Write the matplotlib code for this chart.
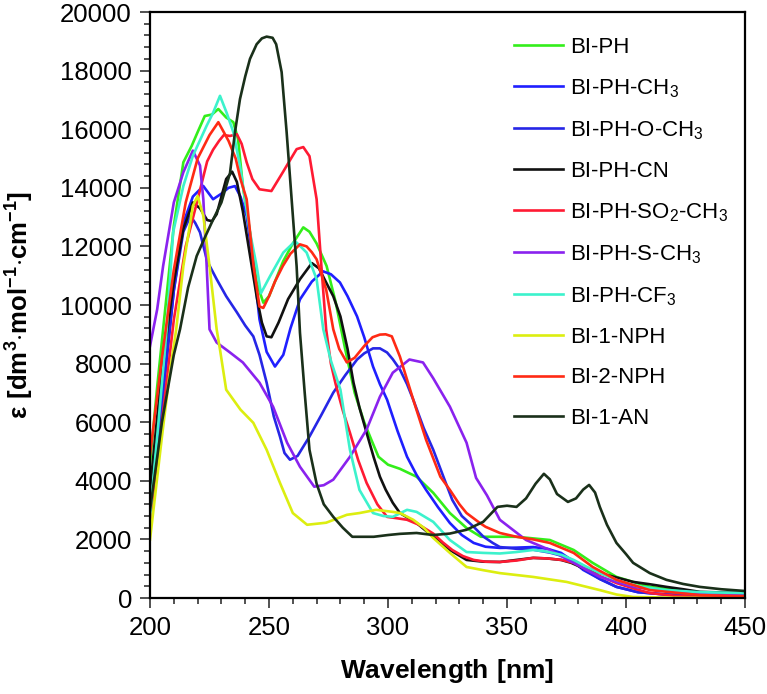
import matplotlib
matplotlib.use("Agg")
import matplotlib.pyplot as plt
from matplotlib.ticker import MultipleLocator

plt.rcParams['font.family'] = ['Liberation Sans', 'DejaVu Sans']
plt.rcParams['mathtext.fontset'] = 'custom'
plt.rcParams['mathtext.rm'] = 'Liberation Sans'
plt.rcParams['mathtext.bf'] = 'Liberation Sans:bold'

# --- data (wavelength nm, epsilon) ---
ph_wl = [200, 203, 205.5, 210, 214, 217.5, 220, 223, 226, 228.7, 232, 235, 237, 239, 242,
         244.8, 247.6, 250, 253, 256, 260, 264.4, 267, 270, 274.2, 278, 282, 286, 290, 293,
         296, 300, 305, 312, 319, 326, 333, 339, 347, 354, 368, 378, 386, 396, 410, 431, 450]
ph_eps = [4600, 7200, 9170, 12700, 14870, 15430, 15900, 16450, 16500, 16690, 16400, 16240,
          15660, 14060, 12480, 10770, 10080, 10300, 10900, 11500, 12100, 12650, 12500, 12100,
          11330, 10100, 8500, 7000, 6000, 5400, 4820, 4550, 4410, 4140, 3590, 2900, 2390,
          2090, 2090, 2090, 1980, 1640, 1200, 720, 380, 170, 100]

ch3_wl = [200, 205, 210, 214, 218, 222.4, 226.5, 230, 233, 235.7, 238, 240.6, 243.5, 246,
          249, 252.5, 256, 259, 263, 268, 272.7, 276, 279.8, 283, 287, 290, 293.7, 296.6,
          299.6, 304, 308, 312, 316, 321, 326, 331, 336, 341, 347, 354, 361, 367, 372.7,
          377, 382, 389, 396, 405, 417, 431, 450]
ch3_eps = [2500, 6500, 10500, 12800, 13700, 14060, 13610, 13800, 14000, 14060, 13700, 13040,
           11330, 9510, 8400, 7900, 8300, 9200, 10190, 10800, 11150, 11050, 10770, 10300,
           9610, 8900, 7900, 7300, 6770, 5700, 4820, 4200, 3690, 3100, 2560, 2150, 1880,
           1750, 1710, 1720, 1740, 1680, 1540, 1300, 960, 650, 380, 200, 120, 80, 60]

och3_wl = [200, 205, 210, 214, 217, 219, 221, 224, 228, 232, 236.5, 240, 243.4, 246, 249,
           252, 254.6, 256.5, 258.8, 262, 267, 272, 277, 282, 287, 290, 293.7, 296.6, 299.6,
           302, 305, 308, 310.6, 315, 319, 323, 327, 331, 336, 340, 344, 347, 354, 361, 368,
           375, 382, 389, 396, 405, 417, 431, 450]
och3_eps = [2400, 6800, 10500, 12500, 13040, 12800, 12480, 11500, 10880, 10300, 9750, 9300,
            8930, 8300, 7350, 6200, 5510, 4950, 4720, 4850, 5510, 6250, 7010, 7600, 8140,
            8350, 8520, 8520, 8380, 8150, 7800, 7300, 6770, 5800, 5060, 4200, 3350, 2800,
            2430, 2100, 1880, 1740, 1680, 1650, 1550, 1400, 1000, 650, 380, 200, 120, 80, 60]

cn_wl = [200, 205, 210, 214, 218, 221, 224, 226, 228, 230, 232, 234.5, 236.5, 239, 242, 245,
         247, 249, 251, 254, 258, 263, 268, 271, 274, 277, 280, 283, 285.5, 288, 291, 294,
         296.6, 299, 302, 305, 312, 319, 326, 333, 340, 347, 354, 361, 367, 372.7, 377, 382,
         389, 396, 403, 410, 417, 424, 431, 440, 450]
cn_eps = [3700, 7800, 10800, 12600, 13500, 13300, 12900, 12860, 13100, 13700, 14300, 14550,
          14200, 13200, 11700, 10200, 9400, 8930, 8900, 9400, 10200, 10880, 11430, 11250,
          10770, 10300, 9610, 8500, 7350, 6500, 5640, 4800, 4140, 3700, 3250, 2900, 2560,
          2090, 1640, 1300, 1240, 1230, 1300, 1370, 1350, 1300, 1200, 1020, 850, 700, 550,
          470, 380, 300, 210, 190, 170]

so2_wl = [200, 205, 210, 215, 220, 224, 226.5, 229, 231, 233.6, 236.5, 238.5, 240.6, 243,
          246, 251, 255.8, 258.5, 261.6, 264.4, 267, 270, 272, 274, 276, 278, 281, 284,
          287.5, 291, 295.5, 299.6, 304, 308, 313, 319, 323, 327, 331.5, 336, 341, 347, 354,
          361, 367, 373, 378, 383.6, 389, 396, 403, 410, 420, 431, 450]
so2_eps = [2300, 6000, 9500, 12000, 13600, 14900, 15300, 15600, 15800, 15770, 15830, 15500,
           14870, 14300, 13950, 13890, 14530, 14900, 15320, 15390, 15080, 13610, 11330, 9170,
           8000, 7300, 6400, 5640, 4700, 3930, 3200, 2770, 2720, 2670, 2500, 2200, 1900, 1640,
           1430, 1300, 1240, 1230, 1280, 1370, 1350, 1300, 1200, 960, 750, 510, 330, 170, 80,
           30, 20]

sch3_wl = [200, 203, 205.5, 210, 214, 218, 221, 222.4, 223.8, 225, 228, 233.6, 239, 246,
           251.7, 257.6, 263, 269, 273, 277, 284, 291, 296.6, 302, 309, 314.7, 319, 326, 333,
           337, 341.6, 347, 358, 368, 378, 389, 403, 424, 450]
sch3_eps = [8600, 9850, 11330, 13500, 14530, 15270, 14760, 13610, 11330, 9170, 8720, 8380,
            8040, 7350, 6530, 5300, 4480, 3800, 3850, 4040, 4820, 5750, 6870, 7690, 8140, 8040,
            7500, 6530, 5300, 4100, 3500, 2670, 1980, 1640, 1200, 720, 380, 170, 80]

cf3_wl = [200, 203, 207, 209.7, 214, 218, 223.8, 226.5, 229.4, 232.2, 235, 237.8, 242, 244.8,
          246.6, 250.4, 256, 261, 265.8, 270, 272.8, 276, 280, 284, 288, 293.7, 298, 302, 308,
          312, 319, 326, 333, 340, 347, 354, 361, 367, 373, 378, 383.6, 389, 396, 405, 417,
          431, 450]
cf3_eps = [2800, 5500, 9170, 12480, 14060, 15090, 16120, 16560, 17140, 16560, 15900, 14750,
           12480, 11330, 10400, 10980, 11790, 12180, 11790, 10880, 9170, 8100, 7110, 5060,
           3690, 2900, 2800, 2770, 3010, 2940, 2600, 1980, 1570, 1540, 1520, 1570, 1640, 1580,
           1470, 1300, 1060, 850, 620, 400, 270, 200, 170]

nph1_wl = [200, 205, 208, 211, 214, 218, 220, 222.4, 225, 228, 229.4, 232, 238, 243.4, 249,
           254.6, 260, 266, 274, 282.7, 288, 295, 302, 305, 310.6, 315, 319, 326, 333, 340,
           347, 361, 375, 389, 396, 403, 420, 450]
nph1_eps = [2000, 5500, 7500, 9170, 11330, 13380, 13720, 13040, 11330, 9170, 8480, 7110,
            6430, 5980, 5060, 3930, 2900, 2500, 2570, 2840, 2900, 3010, 2940, 2900, 2670,
            2400, 2050, 1540, 1060, 950, 850, 720, 550, 270, 120, 35, 10, 0]

nph2_wl = [200, 205, 210, 215, 220, 225, 228.7, 231, 233, 236, 238, 240.6, 243.5, 246, 247.6,
           250, 252.5, 255.8, 259, 263, 265.8, 268, 270, 274, 277, 279.5, 282.7, 286, 290,
           293.5, 296.6, 299, 301.6, 305, 310.6, 316, 322, 326, 330, 333, 338.6, 341, 347,
           354, 361, 368, 378, 386, 396, 410, 431, 450]
nph2_eps = [4900, 8200, 11200, 13500, 15000, 15800, 16240, 15900, 15600, 15000, 14300, 13610,
            11330, 9950, 9900, 10300, 10800, 11330, 11750, 12070, 12000, 11800, 11560, 10530,
            9170, 8500, 8040, 8200, 8600, 8900, 8990, 9000, 8930, 8240, 6770, 5400, 4140,
            3690, 3200, 2900, 2560, 2430, 2220, 2090, 2000, 1880, 1540, 1060, 620, 270, 100, 60]

an_wl = [200, 205, 210, 212.6, 216, 219.6, 223, 226.6, 230, 233.6, 235.7, 237.8, 240, 242,
         244.8, 247, 249, 251.5, 253, 255.3, 257.4, 259.5, 261.6, 263, 265, 267, 270, 273,
         277, 281, 285, 290, 294, 300, 305, 312, 319, 326, 333, 340, 346, 350, 354, 358, 362,
         365.5, 368, 371, 375.6, 379, 382, 384.5, 387, 389, 392, 396, 400, 403, 410, 417,
         424, 431, 440, 450]
an_eps = [3000, 6000, 8300, 9170, 10600, 11670, 12300, 12930, 13500, 14500, 15900, 17030,
          17800, 18400, 18900, 19100, 19160, 19120, 18900, 17950, 15900, 13610, 11320, 9060,
          7000, 5060, 3900, 3200, 2770, 2400, 2090, 2090, 2090, 2150, 2190, 2220, 2150, 2200,
          2330, 2600, 3110, 3150, 3110, 3400, 3900, 4240, 4050, 3550, 3280, 3400, 3700, 3860,
          3600, 3110, 2500, 1880, 1500, 1200, 850, 620, 480, 380, 300, 240]

labels = ['BI-PH', 'BI-PH-CH$_3$', 'BI-PH-O-CH$_3$', 'BI-PH-CN', 'BI-PH-SO$_2$-CH$_3$',
          'BI-PH-S-CH$_3$', 'BI-PH-CF$_3$', 'BI-1-NPH', 'BI-2-NPH', 'BI-1-AN']
colors = ['#33ee1a', '#1f1fff', '#2626e6', '#111111', '#ff1a33', '#8a22ee', '#3cf2cc',
          '#dcee10', '#ff2a14', '#1a301a']
series = [(ph_wl, ph_eps), (ch3_wl, ch3_eps), (och3_wl, och3_eps), (cn_wl, cn_eps),
          (so2_wl, so2_eps), (sch3_wl, sch3_eps), (cf3_wl, cf3_eps), (nph1_wl, nph1_eps),
          (nph2_wl, nph2_eps), (an_wl, an_eps)]

fig = plt.figure(figsize=(7.67, 6.94), dpi=100)
ax = fig.add_axes([0.1956, 0.1383, 0.7757, 0.8444])

for (wl, eps), lab, c in zip(series, labels, colors):
    ax.plot(wl, eps, color=c, lw=1.9, label=lab, solid_joinstyle='round')

ax.set_xlim(200, 450)
ax.set_ylim(0, 20000)
ax.xaxis.set_major_locator(MultipleLocator(50))
ax.xaxis.set_minor_locator(MultipleLocator(10))
ax.yaxis.set_major_locator(MultipleLocator(2000))
ax.yaxis.set_minor_locator(MultipleLocator(400))
ax.tick_params(which='both', direction='out', width=1.2, labelsize=18.5, color='#333333')
ax.tick_params(which='major', length=7, pad=6)
ax.tick_params(which='minor', length=4)
for s in ax.spines.values():
    s.set_linewidth(1.6)

ax.set_xlabel(r'$\mathbf{Wavelength\ [nm]}$', fontsize=19, labelpad=12)
ax.set_ylabel(r'$\mathbf{\epsilon\ [dm^{3}{\cdot}mol^{-1}{\cdot}cm^{-1}]}$', fontsize=18.5,
              labelpad=17)

ax.legend(loc='upper left', bbox_to_anchor=(0.5785, 0.992), frameon=False, fontsize=16,
          handlelength=2.2, handletextpad=0.3, labelspacing=0.87, borderaxespad=0.5)

fig.savefig('out.png', dpi=100)
